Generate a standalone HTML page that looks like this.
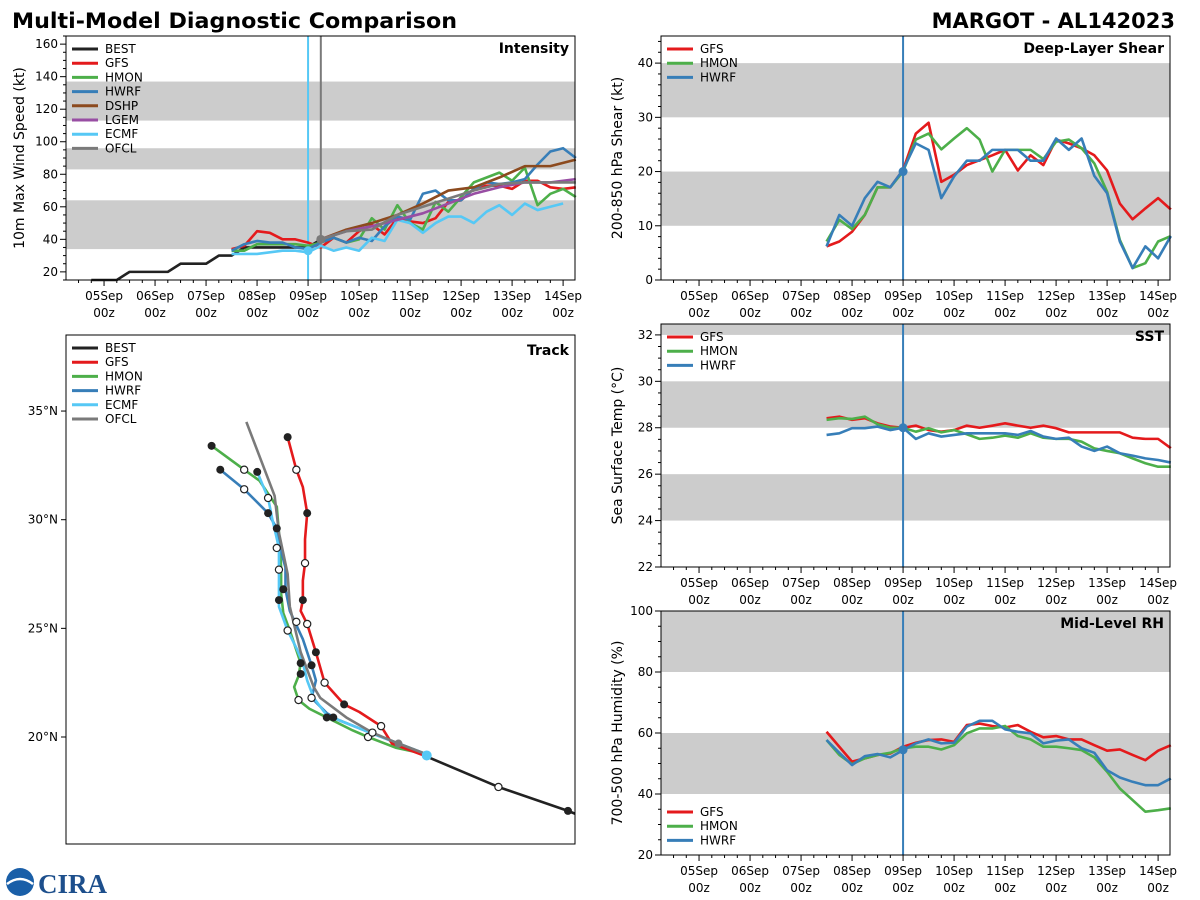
<!DOCTYPE html>
<html><head><meta charset="utf-8"><style>
body{margin:0;background:#fff;}
svg{display:block;font-family:"DejaVu Sans","Liberation Sans",sans-serif;}
</style></head><body>
<svg id="fig" width="1200" height="900" viewBox="0 0 1200 900">
<text x="12" y="28" font-size="21" font-weight="bold" textLength="445" lengthAdjust="spacingAndGlyphs">Multi-Model Diagnostic Comparison</text>
<text x="1175" y="28" font-size="21" font-weight="bold" text-anchor="end">MARGOT - AL142023</text>
<g>
<circle cx="20" cy="882" r="14" fill="#1a5fa8"/>
<path d="M7 884 Q20 874 33 884" stroke="#fff" stroke-width="2.5" fill="none"/>
<text x="38" y="893" font-size="27" font-weight="bold" fill="#1d4f8c" font-family="Liberation Serif,serif">CIRA</text>
</g>
</svg>
<script>
// ---------- data ----------
const intensityBestHours=[-6,0,6,12,18,24,30,36,42,48,54,60,66,72,78,84,90,96,102];
const intensityBest=[15,15,15,20,20,20,20,25,25,25,30,30,35,35,35,35,35,35,40];
const modelHours=[60,66,72,78,84,90,96,102,108,114,120,126,132,138,144,150,156,162,168,174,180,186,192,198,204,210,216,222];
const intensityGFS=[34,36,45,44,40,40,38,35,41,38,45,49,43,53,51,50,53,63,64,71,73,73,71,76,76,72,71,72];
const intensityHMON=[33,33,37,37,37,37,36,38,41,38,40,53,46,61,50,46,63,57,66,75,78,81,76,84,61,68,71,66];
const intensityHWRF=[33,37,39,38,38,35,34,38,41,38,41,39,48,54,52,68,70,64,64,71,75,74,75,77,86,94,96,90];
const ecmfHours=[60,66,72,78,84,90,96,102,108,114,120,126,132,138,144,150,156,162,168,174,180,186,192,198,204,210,216];
const intensityECMF=[31,31,31,32,33,33,32,36,33,35,33,41,39,52,50,44,50,54,54,50,57,61,55,62,58,60,62];
const statHours=[102,114,126,138,150,162,174,186,198,210,222];
const intensityDSHP=[40,46,50,55,62,70,72,78,85,85,89];
const intensityLGEM=[40,45,48,52,56,62,68,72,75,75,77];
const intensityOFCL=[40,45,46,55,60,65,70,74,75,75,75];
const shearGFS=[6.2,7.1,8.9,12.0,17.1,17.1,20.3,27.0,29.0,18.1,19.4,21.2,22.1,23.0,24.0,20.2,23.0,21.2,25.9,25.2,24.3,23.0,20.2,14.1,11.2,13.2,15.1,13.0];
const shearHMON=[7.1,11.1,9.4,12.0,17.1,17.1,20.0,25.9,27.0,24.1,26.1,28.0,25.9,20.0,24.0,24.0,24.0,22.3,25.5,25.9,24.3,21.5,16.3,7.4,2.2,3.1,7.1,8.1];
const shearHWRF=[6.2,12.0,10.0,15.1,18.1,17.1,20.3,25.2,24.0,15.1,19.1,22.0,22.0,24.0,24.0,24.0,22.0,22.0,26.1,24.0,26.1,19.2,16.0,7.1,2.2,6.2,4.0,8.1];
const sstGFS=[28.41,28.48,28.34,28.41,28.19,28.05,28.0,28.09,27.9,27.83,27.9,28.09,28.0,28.09,28.19,28.09,28.0,28.09,27.98,27.8,27.8,27.8,27.8,27.8,27.57,27.52,27.52,27.12];
const sstHMON=[28.34,28.41,28.38,28.48,28.15,28.0,28.0,27.83,27.98,27.8,27.9,27.72,27.52,27.57,27.66,27.57,27.76,27.57,27.52,27.52,27.4,27.11,27.0,26.9,26.68,26.47,26.32,26.32];
const sstHWRF=[27.69,27.76,27.98,27.98,28.05,27.9,28.0,27.52,27.76,27.62,27.69,27.76,27.76,27.76,27.76,27.69,27.86,27.62,27.52,27.57,27.19,27.0,27.19,26.9,26.8,26.68,26.61,26.5];
const rhGFS=[60.4,55.5,50.6,51.7,52.8,53.3,55.5,56.8,57.7,57.9,57.1,62.6,63.1,62.3,61.8,62.6,60.4,58.6,59.0,57.9,57.9,56.0,54.2,54.6,52.8,51.1,54.2,56.0];
const rhHMON=[57.7,52.8,49.8,51.7,52.8,53.5,55.0,55.5,55.5,54.6,56.0,59.9,61.5,61.5,62.3,59.0,57.9,55.5,55.5,55.0,54.4,52.0,47.3,41.8,38.0,34.2,34.7,35.3];
const rhHWRF=[57.7,53.5,49.5,52.4,53.1,52.0,54.4,56.6,57.9,56.6,56.8,62.1,64.0,64.0,61.2,60.4,59.9,56.6,57.5,57.9,55.0,53.5,47.8,45.4,44.0,42.9,42.9,45.1];
const dayLabels=["05Sep","06Sep","07Sep","08Sep","09Sep","10Sep","11Sep","12Sep","13Sep","14Sep"];
// track (lon, lat)
const trackBestLon=[-43.4,-40.1,-36.9,-35.9], trackBestLat=[19.1,17.7,16.6,16.2];
const trackGFSLon=[-43.4,-45.0,-45.5,-46.5,-47.2,-48.1,-48.5,-48.9,-49.2,-49.1,-49.1,-49.0,-49.0,-48.9,-49.1,-49.4,-49.8];
const trackGFSLat=[19.1,19.7,20.5,21.15,21.5,22.5,23.9,25.2,25.8,26.3,27.2,28.0,29.1,30.3,31.5,32.3,33.8];
const trackHMONLon=[-43.4,-44.8,-46.1,-46.8,-48.0,-48.8,-49.3,-49.5,-49.3,-49.2,-49.7,-50.0,-50.1,-50.1,-50.2,-50.3,-50.7,-51.1,-51.8,-53.3];
const trackHMONLat=[19.2,19.5,20.0,20.3,20.9,21.3,21.7,22.3,22.8,23.4,24.9,25.7,26.6,27.8,29.4,30.6,31.2,31.8,32.3,33.4];
const trackHWRFLon=[-43.4,-46.0,-47.5,-48.0,-48.7,-48.5,-48.7,-49.1,-49.7,-49.9,-49.9,-50.2,-50.3,-50.7,-51.8,-52.9];
const trackHWRFLat=[19.2,20.2,20.8,21.1,21.8,22.6,23.3,24.5,25.8,26.8,27.8,28.9,29.6,30.3,31.4,32.3];
const trackECMFLon=[-43.4,-46.0,-48.0,-48.6,-48.9,-49.1,-49.4,-49.8,-50.2,-50.2,-50.2,-50.2,-50.5,-50.7,-51.2];
const trackECMFLat=[19.2,20.2,21.0,21.8,22.6,23.4,24.1,24.9,26.0,26.6,27.7,28.7,30.0,31.0,32.2];
const trackOFCLLon=[-43.4,-44.7,-45.9,-47.1,-48.3,-48.6,-49.2,-49.7,-49.8,-50.2,-50.4,-51.7];
const trackOFCLLat=[19.2,19.7,20.2,20.9,21.8,22.3,23.9,26.0,27.5,29.4,31.1,34.5];
const markFilledLon=[-49.8,-48.9,-49.1,-48.5,-47.2,-53.3,-52.9,-51.2,-50.7,-50.3,-50.0,-50.2,-49.2,-49.2,-48.7,-48.0,-47.7,-36.9];
const markFilledLat=[33.8,30.3,26.3,23.9,21.5,33.4,32.3,32.2,30.3,29.6,26.8,26.3,23.4,22.9,23.3,20.9,20.9,16.6];
const markOpenLon=[-49.4,-49.0,-48.9,-48.1,-45.5,-51.8,-51.8,-50.7,-50.3,-50.2,-49.4,-49.8,-49.3,-48.7,-46.1,-45.9,-40.1];
const markOpenLat=[32.3,28.0,25.2,22.5,20.5,32.3,31.4,31.0,28.7,27.7,25.3,24.9,21.7,21.8,20.0,20.2,17.7];
const latTicks=[35,30,25,20];

const C={BEST:"#222",GFS:"#e41a1c",HMON:"#4daf4a",HWRF:"#377eb8",DSHP:"#8c4a1e",LGEM:"#984ea3",ECMF:"#56c8f5",OFCL:"#7a7a7a"};
const NS="http://www.w3.org/2000/svg";
const svg=document.getElementById('fig');
function mk(tag,attrs,parent){const e=document.createElementNS(NS,tag);for(const k in attrs)e.setAttribute(k,attrs[k]);(parent||svg).appendChild(e);return e;}

function panel(p){
  const g=mk('g',{});
  
  
  const X=h=>p.x0+(h-p.hmin)/(p.hmax-p.hmin)*(p.x1-p.x0);
  const Y=v=>p.y1-(v-p.ymin)/(p.ymax-p.ymin)*(p.y1-p.y0);
  for(const b of p.bands){
    const r=mk('rect',{x:p.x0,y:Y(Math.min(b[1],p.ymax)),width:p.x1-p.x0,height:Y(b[0])-Y(Math.min(b[1],p.ymax)),fill:"#cccccc"},g);
    
    
  }
  for(let v=p.ymin;v<=p.ymax+1e-6;v+=p.yminor){
    const isMaj=p.yticks.some(t=>Math.abs(t-v)<1e-6);
    mk('line',{x1:p.x0-(isMaj?6:3),x2:p.x0,y1:Y(v),y2:Y(v),stroke:"#000","stroke-width":1},g);
  }
  for(const t of p.yticks){
    const tx=mk('text',{x:p.x0-8,y:Y(t)+4,"font-size":12,"text-anchor":"end"},g);
    tx.textContent=t;
    
    
  }
  for(let h=Math.ceil(p.hmin/6)*6;h<=p.hmax;h+=6){
    const maj=h%24===0&&h>=0&&h<=216;
    mk('line',{x1:X(h),x2:X(h),y1:p.y1,y2:p.y1+(maj?6:3),stroke:"#000","stroke-width":1},g);
  }
  dayLabels.forEach((d,i)=>{
    const tx=mk('text',{x:X(i*24),y:p.y1+20,"font-size":12,"text-anchor":"middle"},g);
    tx.textContent=d;
    
    
    const t2=mk('text',{x:X(i*24),y:p.y1+37,"font-size":12,"text-anchor":"middle"},g);
    t2.textContent="00z";
    
    
  });
  for(const vl of p.vlines){
    const l=mk('line',{x1:X(vl[0]),x2:X(vl[0]),y1:p.y0,y2:p.y1,stroke:vl[1],"stroke-width":2},g);
    
    
  }
  for(const s of p.series){
    const pl=mk('polyline',{points:s.h.map((h,i)=>X(h)+","+Y(s.v[i])).join(" "),fill:"none",stroke:C[s.k],"stroke-width":2.6,"stroke-linejoin":"round"},g);
    
    
  }
  for(const d of (p.dots||[])){
    const c=mk('circle',{cx:X(d[0]),cy:Y(d[1]),r:4.5,fill:C[d[2]]},g);
    
    
  }
  mk('rect',{x:p.x0,y:p.y0,width:p.x1-p.x0,height:p.y1-p.y0,fill:"none",stroke:"#000","stroke-width":1},g);
  const tt=mk('text',{x:p.x1-6,y:p.y0+17,"font-size":14,"font-weight":"bold","text-anchor":"end"},g);
  tt.textContent=p.title;
  
  
  const yl=mk('text',{x:0,y:0,"font-size":14,"text-anchor":"middle",transform:`translate(${p.ylx},${(p.y0+p.y1)/2}) rotate(-90)`},g);
  yl.textContent=p.ylabel;
  
  
  legend(g,p.x0,p.legY,p.legend);
}
function legend(g,x0,y0,keys){
  keys.forEach((k,i)=>{
    const y=y0+i*14.2;
    const lg=mk('g',{},g);
    
    
    mk('line',{x1:x0+6,x2:x0+32,y1:y,y2:y,stroke:C[k],"stroke-width":3},lg);
    const t=mk('text',{x:x0+39,y:y+4,"font-size":12},lg);
    t.textContent=k;
  });
}

panel({name:'intensity-panel',x0:66,x1:575,y0:36,y1:280,hmin:-17.9,hmax:221.6,ymin:15,ymax:165,
  bands:[[34,64],[83,96],[113,137]],yticks:[20,40,60,80,100,120,140,160],yminor:5,
  vlines:[[96,C.ECMF],[102,C.OFCL]],title:"Intensity",ylabel:"10m Max Wind Speed (kt)",ylx:24,legY:49,
  legend:["BEST","GFS","HMON","HWRF","DSHP","LGEM","ECMF","OFCL"],
  series:[{k:"BEST",h:intensityBestHours,v:intensityBest},{k:"GFS",h:modelHours,v:intensityGFS},{k:"HMON",h:modelHours,v:intensityHMON},
    {k:"HWRF",h:modelHours,v:intensityHWRF},{k:"ECMF",h:ecmfHours,v:intensityECMF},{k:"DSHP",h:statHours,v:intensityDSHP},
    {k:"LGEM",h:statHours,v:intensityLGEM},{k:"OFCL",h:statHours,v:intensityOFCL}],
  dots:[[96,33,"ECMF"],[102,40,"OFCL"]]});
panel({name:'shear-panel',x0:661,x1:1170,y0:36,y1:280,hmin:-17.9,hmax:221.6,ymin:0,ymax:45,
  bands:[[10,20],[30,40]],yticks:[0,10,20,30,40],yminor:2,vlines:[[96,C.HWRF]],title:"Deep-Layer Shear",
  ylabel:"200-850 hPa Shear (kt)",ylx:622,legY:49,legend:["GFS","HMON","HWRF"],
  series:[{k:"GFS",h:modelHours,v:shearGFS},{k:"HMON",h:modelHours,v:shearHMON},{k:"HWRF",h:modelHours,v:shearHWRF}],
  dots:[[96,20,"HWRF"]]});
panel({name:'sst-panel',x0:661,x1:1170,y0:324,y1:567,hmin:-17.9,hmax:221.6,ymin:22,ymax:32.47,
  bands:[[24,26],[28,30],[32,33]],yticks:[22,24,26,28,30,32],yminor:0.5,vlines:[[96,C.HWRF]],title:"SST",
  ylabel:"Sea Surface Temp (°C)",ylx:622,legY:337,legend:["GFS","HMON","HWRF"],
  series:[{k:"GFS",h:modelHours,v:sstGFS},{k:"HMON",h:modelHours,v:sstHMON},{k:"HWRF",h:modelHours,v:sstHWRF}],
  dots:[[96,28.0,"HWRF"]]});
panel({name:'rh-panel',x0:661,x1:1170,y0:611,y1:855,hmin:-17.9,hmax:221.6,ymin:20,ymax:100,
  bands:[[40,60],[80,100]],yticks:[20,40,60,80,100],yminor:5,vlines:[[96,C.HWRF]],title:"Mid-Level RH",
  ylabel:"700-500 hPa Humidity (%)",ylx:622,legY:812,legend:["GFS","HMON","HWRF"],
  series:[{k:"GFS",h:modelHours,v:rhGFS},{k:"HMON",h:modelHours,v:rhHMON},{k:"HWRF",h:modelHours,v:rhHWRF}],
  dots:[[96,54.5,"HWRF"]]});

(function(){
  const g=mk('g',{});
  
  
  const PX=21.73;
  const X=lon=>66+(lon+60)*PX, Y=lat=>737-(lat-20)*PX;
  const clip=mk('clipPath',{id:'tc'},g); mk('rect',{x:66,y:335,width:509,height:509},clip);
  const inner=mk('g',{'clip-path':'url(#tc)'},g);
  for(const t of latTicks){
    mk('line',{x1:61,x2:66,y1:Y(t),y2:Y(t),stroke:"#000"},g);
    const tx=mk('text',{x:58,y:Y(t)+4,"font-size":12,"text-anchor":"end"},g);
    tx.textContent=t+"°N";
    
    
  }
  const tr=[["BEST",trackBestLon,trackBestLat],["HMON",trackHMONLon,trackHMONLat],["HWRF",trackHWRFLon,trackHWRFLat],
    ["ECMF",trackECMFLon,trackECMFLat],["GFS",trackGFSLon,trackGFSLat],["OFCL",trackOFCLLon,trackOFCLLat]];
  for(const [k,lo,la] of tr){
    const pl=mk('polyline',{points:lo.map((v,i)=>X(v)+","+Y(la[i])).join(" "),fill:"none",stroke:C[k],"stroke-width":2.6,"stroke-linejoin":"round"},inner);
    
    
  }
  markFilledLon.forEach((v,i)=>{
    const c=mk('circle',{cx:X(v),cy:Y(markFilledLat[i]),r:4,fill:"#222"},inner);
    
    
  });
  markOpenLon.forEach((v,i)=>{
    const c=mk('circle',{cx:X(v),cy:Y(markOpenLat[i]),r:3.6,fill:"#fff",stroke:"#222","stroke-width":1.2},inner);
    
    
  });
  const c1=mk('circle',{cx:X(-43.4),cy:Y(19.15),r:5,fill:C.ECMF},inner);
  
  
  const c2=mk('circle',{cx:X(-44.7),cy:Y(19.7),r:4,fill:C.OFCL},inner);
  
  
  mk('rect',{x:66,y:335,width:509,height:509,fill:"none",stroke:"#000"},g);
  const tt=mk('text',{x:569,y:355,"font-size":14,"font-weight":"bold","text-anchor":"end"},g);
  tt.textContent="Track";
  
  
  legend(g,66,348,["BEST","GFS","HMON","HWRF","ECMF","OFCL"]);
})();
</script>
</body></html>
